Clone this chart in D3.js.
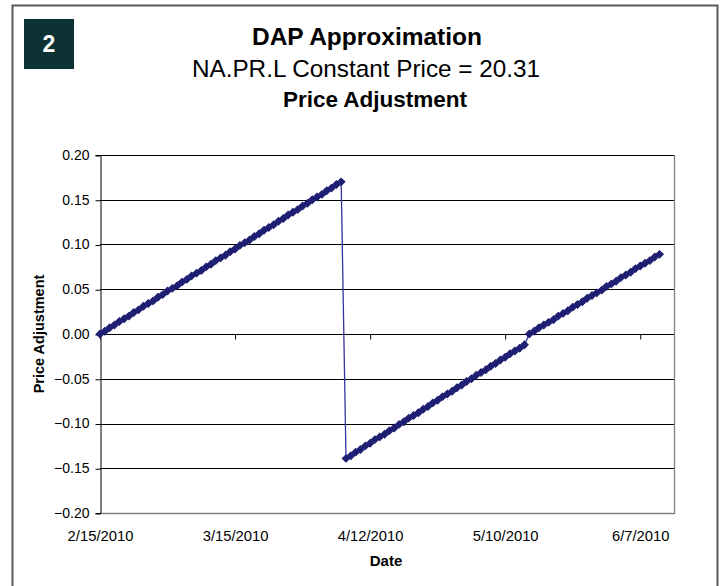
<!DOCTYPE html>
<meta charset="utf-8">
<head>
    <script src="https://d3js.org/d3.v7.min.js"></script>
    <style>
        body { margin: 0; background: #fff; }
        text { font-family: "Liberation Sans", Arial, sans-serif; }
    </style>
</head>
<body>
<div id="chart"></div>

<script>
    // three pieces of the sawtooth, one value per day from the given start date
    const seg1Start = "2010-02-15";
    const seg1 = [0.000, 0.003, 0.007, 0.010, 0.014, 0.017, 0.020, 0.024, 0.027, 0.031,
        0.034, 0.037, 0.041, 0.044, 0.048, 0.051, 0.054, 0.058, 0.061, 0.065,
        0.068, 0.071, 0.075, 0.078, 0.082, 0.085, 0.088, 0.092, 0.095, 0.099,
        0.102, 0.105, 0.109, 0.112, 0.116, 0.119, 0.122, 0.126, 0.129, 0.133,
        0.136, 0.139, 0.143, 0.146, 0.150, 0.153, 0.156, 0.160, 0.163, 0.167,
        0.170];

    const seg2Start = "2010-04-07";
    const seg2 = [-0.139, -0.136, -0.132, -0.129, -0.125, -0.122, -0.118, -0.115, -0.112, -0.108,
        -0.105, -0.101, -0.098, -0.094, -0.091, -0.088, -0.084, -0.081, -0.077, -0.074,
        -0.070, -0.067, -0.064, -0.060, -0.057, -0.053, -0.050, -0.046, -0.043, -0.040,
        -0.036, -0.033, -0.029, -0.026, -0.022, -0.019, -0.016, -0.012];

    const seg3Start = "2010-05-15";
    const seg3 = [0.000, 0.003, 0.007, 0.010, 0.013, 0.016, 0.020, 0.023, 0.026, 0.030,
        0.033, 0.036, 0.040, 0.043, 0.046, 0.049, 0.053, 0.056, 0.059, 0.063,
        0.066, 0.069, 0.073, 0.076, 0.079, 0.082, 0.086, 0.089];

    const xTickDates = ["2010-02-15", "2010-03-15", "2010-04-12", "2010-05-10", "2010-06-07"];
    const xDomain = ["2010-02-15", "2010-06-14"];
    const yTicks = [-0.20, -0.15, -0.10, -0.05, 0.00, 0.05, 0.10, 0.15, 0.20];

    const parse = d3.timeParse("%Y-%m-%d");

    let data = [];
    [[seg1Start, seg1], [seg2Start, seg2], [seg3Start, seg3]].forEach(([start, vals]) => {
        const s = parse(start);
        vals.forEach((v, i) => {
            data.push({ date: d3.timeDay.offset(s, i), value: v });
        });
    });

    const width = 727, height = 586;
    const svg = d3.select("#chart").append("svg")
        .attr("width", width)
        .attr("height", height);

    // outer frame
    svg.append("rect")
        .attr("x", 12.5).attr("y", 5.5)
        .attr("width", 705).attr("height", 600)
        .attr("fill", "none")
        .attr("stroke", "#5a5a5a")
        .attr("stroke-width", 2);

    // number badge
    svg.append("rect")
        .attr("x", 24).attr("y", 19)
        .attr("width", 50).attr("height", 50)
        .attr("fill", "#0c3233");
    svg.append("text")
        .attr("x", 49).attr("y", 52)
        .attr("text-anchor", "middle")
        .attr("fill", "#fff")
        .attr("font-weight", "bold")
        .attr("font-size", 23)
        .text("2");

    // titles
    svg.append("text")
        .attr("x", 367).attr("y", 45)
        .attr("text-anchor", "middle")
        .attr("font-weight", "bold")
        .attr("font-size", 24.5)
        .text("DAP Approximation");
    svg.append("text")
        .attr("x", 366).attr("y", 77)
        .attr("text-anchor", "middle")
        .attr("font-size", 24.3)
        .text("NA.PR.L Constant Price = 20.31");
    svg.append("text")
        .attr("x", 375).attr("y", 107)
        .attr("text-anchor", "middle")
        .attr("font-weight", "bold")
        .attr("font-size", 22.5)
        .text("Price Adjustment");

    const plotLeft = 100, plotRight = 674, plotTop = 155, plotBottom = 513;

    const x = d3.scaleTime()
        .domain(xDomain.map(parse))
        .range([plotLeft, plotRight]);

    const y = d3.scaleLinear()
        .domain([-0.20, 0.20])
        .range([plotBottom, plotTop]);

    // gridlines
    svg.append("g")
        .selectAll("line")
        .data(yTicks.filter(d => d !== -0.20))
        .enter()
        .append("line")
        .attr("x1", plotLeft).attr("x2", plotRight)
        .attr("y1", d => Math.round(y(d)) + 0.5)
        .attr("y2", d => Math.round(y(d)) + 0.5)
        .attr("stroke", "#000")
        .attr("stroke-width", 1);

    // plot border right and bottom
    svg.append("path")
        .attr("d", `M${plotRight + 0.5},${plotTop}V${plotBottom + 0.5}H${plotLeft}`)
        .attr("fill", "none")
        .attr("stroke", "#808080")
        .attr("stroke-width", 1.3);

    // y axis
    const leftAxis = d3.axisLeft(y)
        .tickValues(yTicks)
        .tickFormat(d3.format(".2f"))
        .tickSize(5)
        .tickPadding(6);
    const gy = svg.append("g")
        .attr("transform", `translate(${plotLeft + 0.5},0)`)
        .call(leftAxis);
    gy.select(".domain").attr("stroke", "#000");
    gy.selectAll(".tick line").attr("stroke", "#000")
        .attr("transform", "translate(0,0.5)");
    gy.selectAll("text")
        .attr("font-family", "Liberation Sans, Arial, sans-serif")
        .attr("font-size", 14)
        .attr("fill", "#000");

    // x axis ticks on the zero line
    const zeroAxis = d3.axisBottom(x)
        .tickValues(xTickDates.map(parse))
        .tickSize(5)
        .tickFormat("");
    const gz = svg.append("g")
        .attr("transform", `translate(0,${Math.round(y(0)) + 0.5})`)
        .call(zeroAxis);
    gz.select(".domain").remove();
    gz.selectAll(".tick line").attr("stroke", "#000");

    // x labels at the bottom
    const bottomAxis = d3.axisBottom(x)
        .tickValues(xTickDates.map(parse))
        .tickSize(0)
        .tickPadding(17)
        .tickFormat(d3.timeFormat("%-m/%-d/%Y"));
    const gx = svg.append("g")
        .attr("transform", `translate(0,${plotBottom})`)
        .call(bottomAxis);
    gx.select(".domain").remove();
    gx.selectAll("text")
        .attr("font-family", "Liberation Sans, Arial, sans-serif")
        .attr("font-size", 14.8)
        .attr("fill", "#000");

    // axis titles
    svg.append("text")
        .attr("x", 386).attr("y", 566)
        .attr("text-anchor", "middle")
        .attr("font-weight", "bold")
        .attr("font-size", 15)
        .text("Date");
    svg.append("text")
        .attr("transform", `translate(44,${(plotTop + plotBottom) / 2}) rotate(-90)`)
        .attr("text-anchor", "middle")
        .attr("font-weight", "bold")
        .attr("font-size", 14.5)
        .text("Price Adjustment");

    // series line
    svg.append("path")
        .datum(data)
        .attr("fill", "none")
        .attr("stroke", "#3434a0")
        .attr("stroke-width", 1.3)
        .attr("d", d3.line()
            .x(d => x(d.date))
            .y(d => y(d.value)));

    // diamond markers
    const diamond = d3.symbol().type(d3.symbolSquare).size(28);
    svg.append("g")
        .selectAll("path")
        .data(data)
        .enter()
        .append("path")
        .attr("d", diamond)
        .attr("transform", d => `translate(${x(d.date)},${y(d.value)}) rotate(45)`)
        .attr("fill", "#1e1e72")
        .attr("stroke", "#1e1e72")
        .attr("stroke-width", 1);
</script>
</body>
